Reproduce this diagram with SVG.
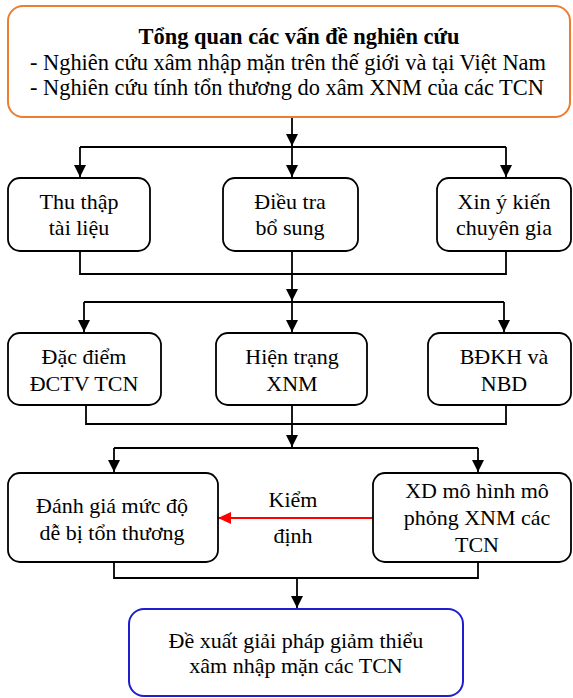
<svg xmlns="http://www.w3.org/2000/svg" width="573" height="698" viewBox="0 0 573 698">
<defs>
<style>
.box{fill:#fff;stroke:#000;stroke-width:1.8}
.orange{fill:#fff;stroke:#ED7D31;stroke-width:2}
.blue{fill:#fff;stroke:#1F1FD0;stroke-width:2}
text{font-family:"Liberation Serif","Times New Roman",serif;font-size:22px;fill:#000}
.t{text-anchor:middle}
.big{font-size:22.4px}
.b{font-weight:bold}
.ln{fill:none;stroke:#000;stroke-width:1.8}
.red{fill:none;stroke:#FF0000;stroke-width:2}
</style>
<marker id="ah" markerUnits="userSpaceOnUse" markerWidth="12" markerHeight="12" refX="12" refY="6" orient="auto">
<path d="M0,0 L12,6 L0,12 z" fill="#000"/>
</marker>
<marker id="ahr" markerUnits="userSpaceOnUse" markerWidth="14" markerHeight="12" refX="13" refY="6" orient="auto">
<path d="M0,0 L13,6 L0,12 z" fill="#FF0000"/>
</marker>
</defs>

<g id="connectors">
<line class="ln" x1="292" y1="117" x2="292" y2="146" marker-end="url(#ah)"/>
<line class="ln" x1="80" y1="147" x2="506" y2="147"/>
<line class="ln" x1="80" y1="147" x2="80" y2="177" marker-end="url(#ah)"/>
<line class="ln" x1="292" y1="147" x2="292" y2="177" marker-end="url(#ah)"/>
<line class="ln" x1="506" y1="147" x2="506" y2="177" marker-end="url(#ah)"/>

<polyline class="ln" points="80,251 80,274 506,274 506,251"/>
<line class="ln" x1="292" y1="251" x2="292" y2="301" marker-end="url(#ah)"/>
<line class="ln" x1="84" y1="302" x2="504" y2="302"/>
<line class="ln" x1="84" y1="302" x2="84" y2="332" marker-end="url(#ah)"/>
<line class="ln" x1="292" y1="302" x2="292" y2="332" marker-end="url(#ah)"/>
<line class="ln" x1="504" y1="302" x2="504" y2="332" marker-end="url(#ah)"/>

<polyline class="ln" points="86,405 86,424 506,424 506,405"/>
<line class="ln" x1="292" y1="405" x2="292" y2="447" marker-end="url(#ah)"/>
<line class="ln" x1="114" y1="448" x2="478" y2="448"/>
<line class="ln" x1="114" y1="448" x2="114" y2="472" marker-end="url(#ah)"/>
<line class="ln" x1="478" y1="448" x2="478" y2="472" marker-end="url(#ah)"/>

<line class="red" x1="373" y1="518" x2="218" y2="518" marker-end="url(#ahr)"/>

<polyline class="ln" points="114,562 114,578 478,578 478,562"/>
<line class="ln" x1="297" y1="578" x2="297" y2="608" marker-end="url(#ah)"/>
</g>

<g id="n_tongquan">
<rect class="orange" x="8" y="6" width="562" height="111" rx="15" ry="15"/>
<text class="t b big" x="299" y="44">Tổng quan các vấn đề nghiên cứu</text>
<text class="big" x="30" y="70">- Nghiên cứu xâm nhập mặn trên thế giới và tại Việt Nam</text>
<text class="big" x="30" y="95">- Nghiên cứu tính tổn thương do xâm XNM của các TCN</text>
</g>

<g id="n_thuthap">
<rect class="box" x="8" y="178" width="142" height="73" rx="12" ry="12"/>
<text class="t" x="79" y="209">Thu thập</text>
<text class="t" x="79" y="235">tài liệu</text>
</g>
<g id="n_dieutra">
<rect class="box" x="223" y="178" width="135" height="73" rx="12" ry="12"/>
<text class="t" x="290" y="209">Điều tra</text>
<text class="t" x="290" y="235">bổ sung</text>
</g>
<g id="n_xinykien">
<rect class="box" x="437" y="178" width="134" height="73" rx="12" ry="12"/>
<text class="t" x="504" y="209">Xin ý kiến</text>
<text class="t" x="504" y="235">chuyên gia</text>
</g>

<g id="n_dacdiem">
<rect class="box" x="8" y="333" width="153" height="72" rx="12" ry="12"/>
<text class="t" x="84" y="364">Đặc điểm</text>
<text class="t" x="84" y="391">ĐCTV TCN</text>
</g>
<g id="n_hientrang">
<rect class="box" x="216" y="333" width="151" height="72" rx="12" ry="12"/>
<text class="t" x="292" y="364">Hiện trạng</text>
<text class="t" x="292" y="391">XNM</text>
</g>
<g id="n_bdkh">
<rect class="box" x="428" y="333" width="143" height="72" rx="12" ry="12"/>
<text class="t" x="504" y="364">BĐKH và</text>
<text class="t" x="504" y="391">NBD</text>
</g>

<g id="n_danhgia">
<rect class="box" x="8" y="473" width="210" height="89" rx="12" ry="12"/>
<text class="t" x="112" y="513">Đánh giá mức độ</text>
<text class="t" x="112" y="540">dễ bị tổn thương</text>
</g>
<g id="n_xdmohinh">
<rect class="box" x="373" y="473" width="198" height="89" rx="12" ry="12"/>
<text class="t" x="477" y="498">XD mô hình mô</text>
<text class="t" x="477" y="525">phỏng XNM các</text>
<text class="t" x="477" y="552">TCN</text>
</g>

<g id="lbl_kiemdinh">
<text class="t" x="293" y="507">Kiểm</text>
<text class="t" x="293" y="543">định</text>
</g>

<g id="n_dexuat">
<rect class="blue" x="129" y="609" width="334" height="87" rx="15" ry="15"/>
<text class="t" x="296" y="648">Đề xuất giải pháp giảm thiểu</text>
<text class="t" x="296" y="673">xâm nhập mặn các TCN</text>
</g>
</svg>
